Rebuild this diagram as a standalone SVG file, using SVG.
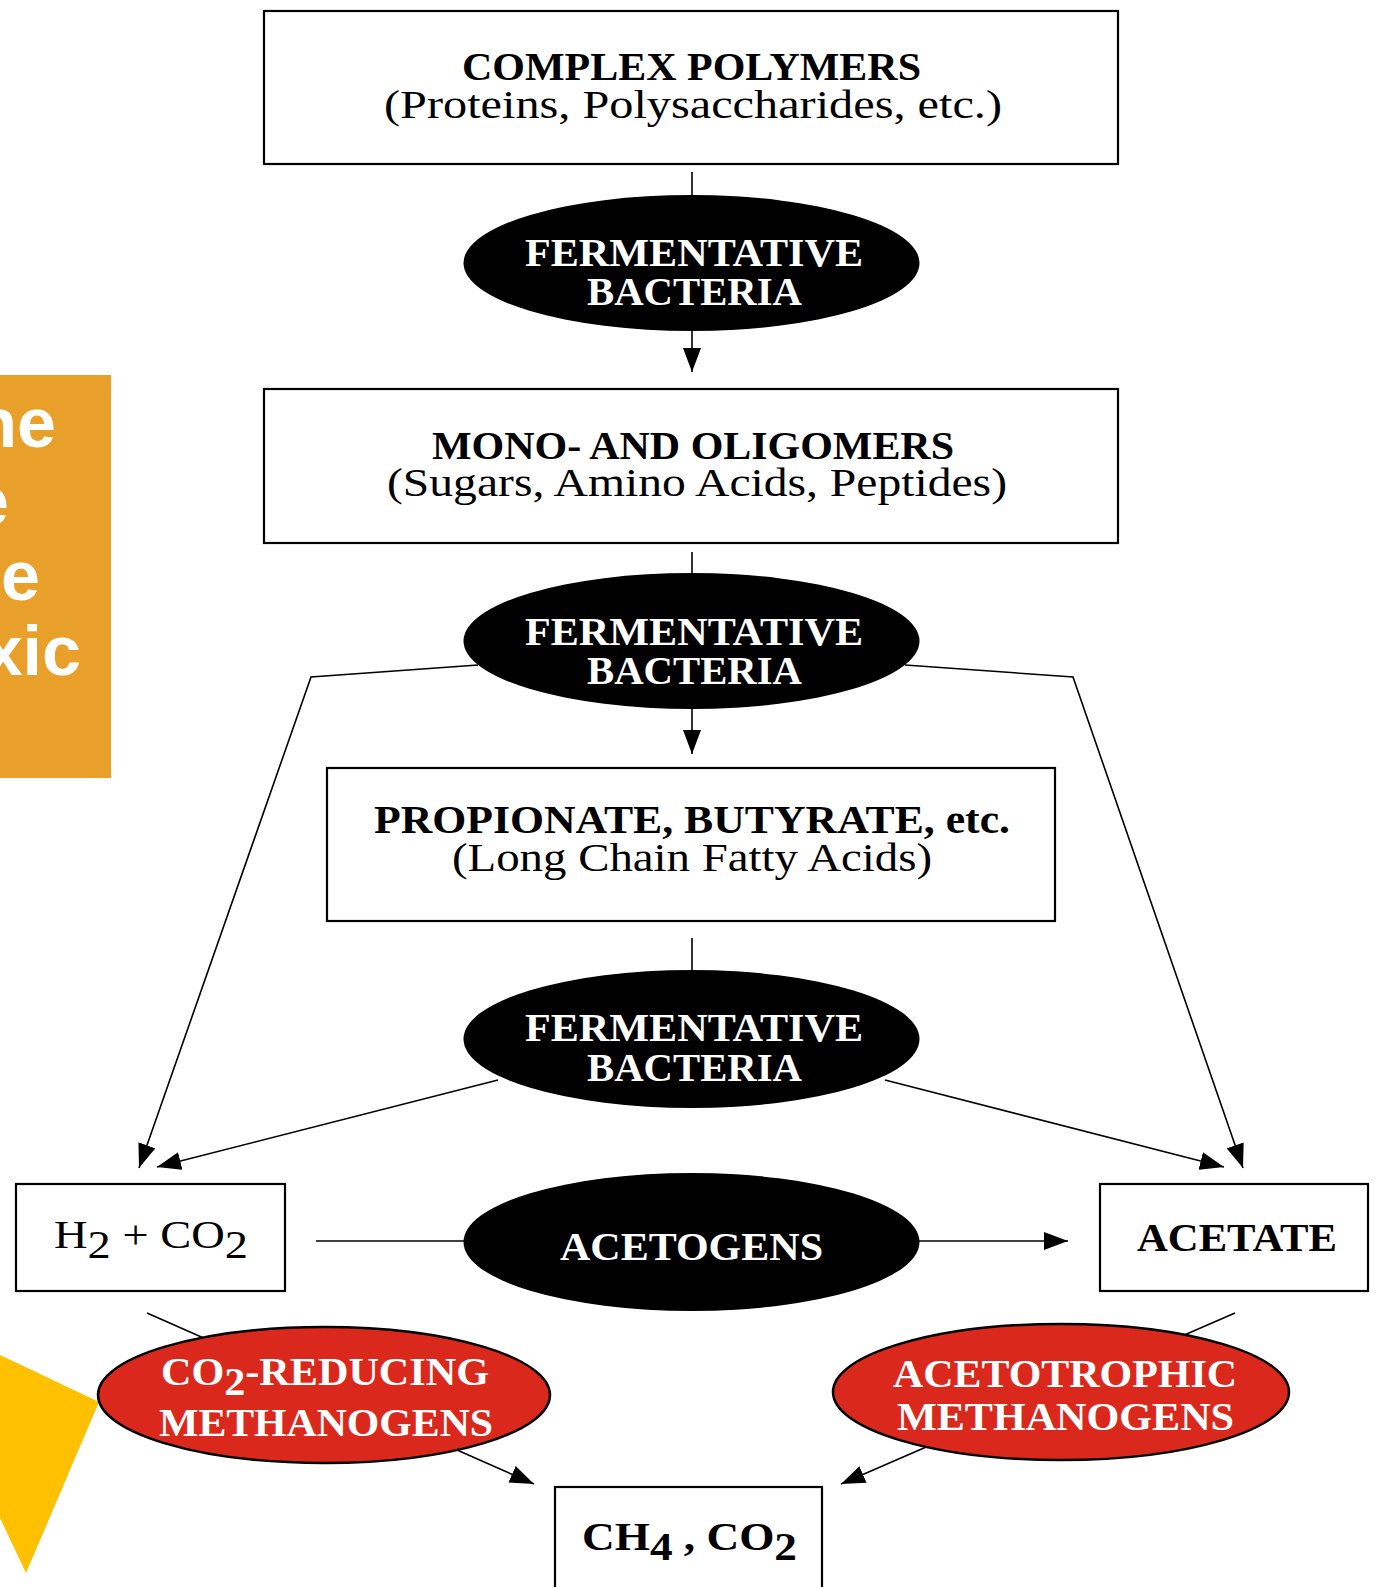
<svg xmlns="http://www.w3.org/2000/svg" width="1375" height="1587" viewBox="0 0 1375 1587">
<style>
.box{fill:#fff;stroke:#000;stroke-width:2.2}
.blk{fill:#000}
.red{fill:#DA291C;stroke:#000;stroke-width:2.5}
.t{font-family:"Liberation Serif","DejaVu Serif",serif;fill:#000}
.b{font-weight:bold}
.w{font-family:"Liberation Serif","DejaVu Serif",serif;font-weight:bold;fill:#fff;font-size:41px}
.c{fill:none;stroke:#000;stroke-width:1.6}
.side{font-family:"Liberation Sans",Arial,sans-serif;font-weight:bold;fill:#fff;font-size:70px}
</style>
<defs>
<marker id="ah" viewBox="0 0 24 18" refX="24" refY="9" markerWidth="24" markerHeight="18" markerUnits="userSpaceOnUse" orient="auto"><path d="M0,0 L24,9 L0,18 z" fill="#000"/></marker>
</defs>
<rect width="1375" height="1587" fill="#fff"/>

<g id="side-panel">
<rect x="0" y="375" width="111" height="403" fill="#E9A02B"/>
<text class="side" x="56" y="447" text-anchor="end">he</text>
<text class="side" x="9" y="525" text-anchor="end">e</text>
<text class="side" x="40" y="600" text-anchor="end">e</text>
<text class="side" x="81" y="675" text-anchor="end">xic</text>
</g>
<g id="yellow-shape">
<polygon points="0,1355 99,1402 26,1573 0,1518" fill="#FFC000"/>
</g>

<g id="connectors">
<line class="c" x1="692" y1="172" x2="692" y2="196"/>
<line class="c" x1="692" y1="330" x2="692" y2="372" marker-end="url(#ah)"/>
<line class="c" x1="692" y1="552" x2="692" y2="575"/>
<line class="c" x1="692" y1="709" x2="692" y2="754" marker-end="url(#ah)"/>
<line class="c" x1="692" y1="938" x2="692" y2="971"/>
<polyline class="c" points="478,665 311,677 139,1168" marker-end="url(#ah)"/>
<polyline class="c" points="905,665 1073,677 1243,1168" marker-end="url(#ah)"/>
<line class="c" x1="498" y1="1080" x2="157" y2="1167" marker-end="url(#ah)"/>
<line class="c" x1="885" y1="1080" x2="1224" y2="1167" marker-end="url(#ah)"/>
<line class="c" x1="316" y1="1241" x2="466" y2="1241"/>
<line class="c" x1="918" y1="1241" x2="1068" y2="1241" marker-end="url(#ah)"/>
<line class="c" x1="147" y1="1313" x2="534" y2="1484" marker-end="url(#ah)"/>
<line class="c" x1="1235" y1="1313" x2="841" y2="1484" marker-end="url(#ah)"/>
</g>

<g id="complex-polymers">
<rect class="box" x="264" y="11" width="854" height="153"/>
<text class="t b" x="462" y="80" font-size="41" textLength="459" lengthAdjust="spacingAndGlyphs">COMPLEX POLYMERS</text>
<text class="t" x="384" y="118" font-size="39" textLength="618" lengthAdjust="spacingAndGlyphs">(Proteins, Polysaccharides, etc.)</text>
</g>

<g id="fermentative-1">
<ellipse class="blk" cx="691.5" cy="263" rx="228" ry="68"/>
<text class="w" x="525" y="266" textLength="338" lengthAdjust="spacingAndGlyphs">FERMENTATIVE</text>
<text class="w" x="587" y="305" textLength="215" lengthAdjust="spacingAndGlyphs">BACTERIA</text>
</g>

<g id="mono-oligomers">
<rect class="box" x="264" y="389" width="854" height="154"/>
<text class="t b" x="432" y="459" font-size="41" textLength="522" lengthAdjust="spacingAndGlyphs">MONO- AND OLIGOMERS</text>
<text class="t" x="387" y="496" font-size="39" textLength="620" lengthAdjust="spacingAndGlyphs">(Sugars, Amino Acids, Peptides)</text>
</g>

<g id="fermentative-2">
<ellipse class="blk" cx="691.5" cy="641" rx="228" ry="68"/>
<text class="w" x="525" y="645" textLength="338" lengthAdjust="spacingAndGlyphs">FERMENTATIVE</text>
<text class="w" x="587" y="684" textLength="215" lengthAdjust="spacingAndGlyphs">BACTERIA</text>
</g>

<g id="propionate-butyrate">
<rect class="box" x="327" y="768" width="728" height="153"/>
<text class="t b" x="374" y="833" font-size="41" textLength="636" lengthAdjust="spacingAndGlyphs">PROPIONATE, BUTYRATE, etc.</text>
<text class="t" x="452" y="871" font-size="39" textLength="480" lengthAdjust="spacingAndGlyphs">(Long Chain Fatty Acids)</text>
</g>

<g id="fermentative-3">
<ellipse class="blk" cx="691.5" cy="1039" rx="228" ry="69"/>
<text class="w" x="525" y="1041" textLength="338" lengthAdjust="spacingAndGlyphs">FERMENTATIVE</text>
<text class="w" x="587" y="1081" textLength="215" lengthAdjust="spacingAndGlyphs">BACTERIA</text>
</g>

<g id="h2-co2">
<rect class="box" x="16" y="1184" width="269" height="107"/>
<text class="t" x="54" y="1248" font-size="40" textLength="194" lengthAdjust="spacingAndGlyphs">H<tspan dy="10">2</tspan><tspan dy="-10"> + CO</tspan><tspan dy="10">2</tspan></text>
</g>

<g id="acetogens">
<ellipse class="blk" cx="691.5" cy="1242" rx="228" ry="69"/>
<text class="w" x="560" y="1260" textLength="263" lengthAdjust="spacingAndGlyphs">ACETOGENS</text>
</g>

<g id="acetate">
<rect class="box" x="1100" y="1184" width="268" height="107"/>
<text class="t b" x="1137" y="1251" font-size="40" textLength="200" lengthAdjust="spacingAndGlyphs">ACETATE</text>
</g>

<g id="co2-reducing-methanogens">
<ellipse class="red" cx="324" cy="1395" rx="226" ry="68"/>
<text class="w" x="161" y="1385" textLength="328" lengthAdjust="spacingAndGlyphs">CO<tspan dy="10">2</tspan><tspan dy="-10">-REDUCING</tspan></text>
<text class="w" x="159" y="1436" textLength="334" lengthAdjust="spacingAndGlyphs">METHANOGENS</text>
</g>

<g id="acetotrophic-methanogens">
<ellipse class="red" cx="1061" cy="1392" rx="228" ry="68"/>
<text class="w" x="893" y="1387" textLength="344" lengthAdjust="spacingAndGlyphs">ACETOTROPHIC</text>
<text class="w" x="897" y="1430" textLength="337" lengthAdjust="spacingAndGlyphs">METHANOGENS</text>
</g>

<g id="ch4-co2">
<rect class="box" x="555" y="1487" width="267" height="110"/>
<text class="t b" x="582" y="1550" font-size="40" textLength="215" lengthAdjust="spacingAndGlyphs">CH<tspan dy="10">4</tspan><tspan dy="-10"> , CO</tspan><tspan dy="10">2</tspan></text>
</g>
</svg>
